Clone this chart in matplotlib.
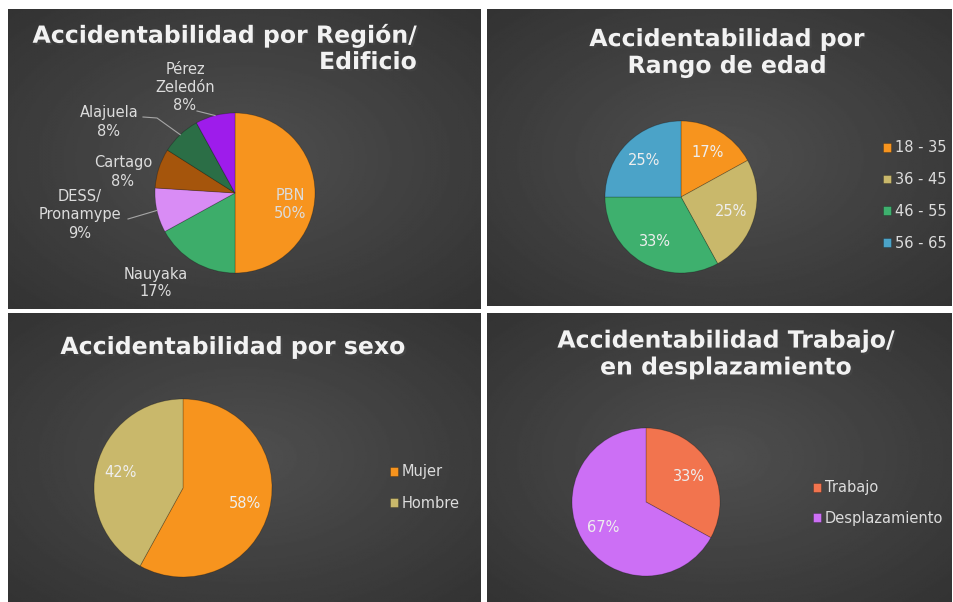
import numpy as np
import matplotlib.pyplot as plt
from matplotlib import patheffects

# datos
region_labels = ['PBN', 'Nauyaka', 'DESS/\nPronamype', 'Cartago', 'Alajuela', 'Pérez\nZeledón']
region_values = [50, 17, 9, 8, 8, 8]
region_colors = ['#F7941E', '#3DAD6A', '#D98CF5', '#A5550C', '#2B6E46', '#9E1CEB']

edad_labels = ['18 - 35', '36 - 45', '46 - 55', '56 - 65']
edad_values = [17, 25, 33, 25]
edad_colors = ['#F7941E', '#C9B86B', '#3EB06E', '#4BA3C8']

sexo_labels = ['Mujer', 'Hombre']
sexo_values = [58, 42]
sexo_colors = ['#F7941E', '#C9B86B']

tipo_labels = ['Trabajo', 'Desplazamiento']
tipo_values = [33, 67]
tipo_colors = ['#F2744E', '#CC6FF5']

W, H = 954, 602
fig = plt.figure(figsize=(W / 100, H / 100), dpi=100, facecolor='white')

TXT = '#F2F2F2'
LBL = '#DCDCDC'


def px_axes(x0, y0, x1, y1):
    # caja en pixeles, y desde arriba
    return fig.add_axes([x0 / W, 1 - y1 / H, (x1 - x0) / W, (y1 - y0) / H])


def panel(x0, y0, x1, y1):
    ax = px_axes(x0, y0, x1, y1)
    yy, xx = np.mgrid[-1:1:200j, -1:1:300j]
    d = np.sqrt(xx ** 2 + yy ** 2) / np.sqrt(2)
    shade = 0.31 - 0.11 * d
    ax.imshow(shade, cmap='gray', vmin=0, vmax=1, extent=[0, 1, 0, 1], aspect='auto')
    ax.axis('off')
    return ax


def pie_axes(cx, cy, r):
    return px_axes(cx - r, cy - r, cx + r, cy + r)


def title(x, y, s, ha='center'):
    fig.text(x / W, 1 - y / H, s, ha=ha, va='center', multialignment=ha,
             fontsize=17, fontweight='bold', color=TXT, linespacing=1.15,
             path_effects=[patheffects.withSimplePatchShadow(offset=(1.5, -1.5), alpha=0.6)])


def legend(ax, wedges, labels, x, y, spacing):
    fig.legend(wedges, labels, loc='center left',
               bbox_to_anchor=(x / W, 1 - y / H), bbox_transform=fig.transFigure,
               frameon=False, fontsize=10.5, labelcolor=LBL,
               handlelength=0.55, handleheight=0.55, handletextpad=0.25,
               labelspacing=spacing, borderpad=0, borderaxespad=0)


wprops = dict(linewidth=0.6, edgecolor=(0, 0, 0, 0.25))

panel(8, 9, 481, 309)
panel(487, 9, 952, 306)
panel(8, 313, 481, 602)
panel(487, 313, 952, 602)

# --- Región / Edificio
cx, cy, r = 235, 193, 80
ax = pie_axes(cx, cy, r)
wedges, _ = ax.pie(region_values, colors=region_colors, startangle=90,
                   counterclock=False, wedgeprops=wprops)
ax.set_xlim(-1, 1)
ax.set_ylim(-1, 1)

label_pos = [(290, 205), (156, 283), (80, 215), (123, 172), (109, 122), (185, 87)]
leaders = {2: [(128, 219)], 4: [(143, 117), (157, 118)], 5: [(197, 111)]}
for i, (lab, val, w) in enumerate(zip(region_labels, region_values, wedges)):
    px, py = label_pos[i]
    ax.text((px - cx) / r, (cy - py) / r, f'{lab}\n{val}%', ha='center', va='center',
            fontsize=10.5, color=LBL, linespacing=1.25)
    if i in leaders:
        mid = np.deg2rad((w.theta1 + w.theta2) / 2)
        xs = [(p[0] - cx) / r for p in leaders[i]] + [np.cos(mid)]
        ys = [(cy - p[1]) / r for p in leaders[i]] + [np.sin(mid)]
        ax.plot(xs, ys, color='#A6A6A6', lw=0.8, clip_on=False)

# titulo en dos textos para que no tape la etiqueta de Pérez Zeledón
title(417, 35, 'Accidentabilidad por Región/', ha='right')
title(417, 62, 'Edificio', ha='right')

# --- Rango de edad
ax = pie_axes(681, 197, 76)
wedges, _, _ = ax.pie(edad_values, colors=edad_colors, startangle=90, counterclock=False,
                      autopct='%d%%', pctdistance=0.68, wedgeprops=wprops,
                      textprops=dict(color='#EEEEEE', fontsize=10.5))
ax.set_xlim(-1, 1)
ax.set_ylim(-1, 1)
title(727, 52.5, 'Accidentabilidad por\nRango de edad')
legend(ax, wedges, edad_labels, 883, 195.5, 1.15)

# --- sexo
ax = pie_axes(183, 488, 89)
wedges, _, _ = ax.pie(sexo_values, colors=sexo_colors, startangle=90, counterclock=False,
                      autopct='%d%%', pctdistance=0.72, wedgeprops=wprops,
                      textprops=dict(color='#EEEEEE', fontsize=10.5))
ax.set_xlim(-1, 1)
ax.set_ylim(-1, 1)
title(233, 347, 'Accidentabilidad por sexo')
legend(ax, wedges, sexo_labels, 390, 487.5, 1.1)

# --- Trabajo / desplazamiento
ax = pie_axes(646, 502, 74)
wedges, _, _ = ax.pie(tipo_values, colors=tipo_colors, startangle=90, counterclock=False,
                      autopct='%d%%', pctdistance=0.67, wedgeprops=wprops,
                      textprops=dict(color='#EEEEEE', fontsize=10.5))
ax.set_xlim(-1, 1)
ax.set_ylim(-1, 1)
title(726, 354, 'Accidentabilidad Trabajo/\nen desplazamiento')
legend(ax, wedges, tipo_labels, 813, 503, 1.05)

fig.savefig('out.png', dpi=100, facecolor='white')
